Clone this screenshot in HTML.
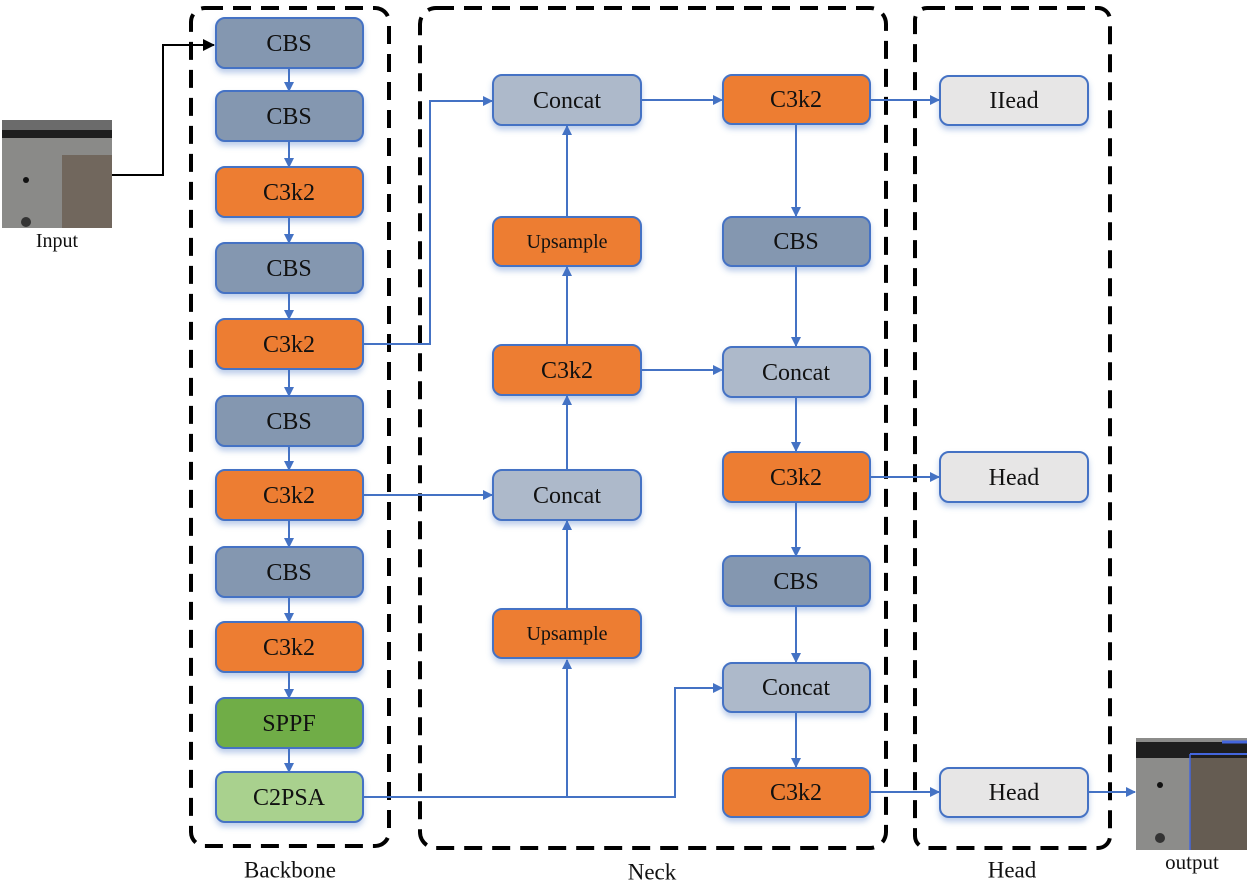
<!DOCTYPE html>
<html><head><meta charset="utf-8"><style>
html,body{margin:0;padding:0;background:#fff;}
svg{display:block;}
text{font-family:"Liberation Serif",serif;fill:#111;text-anchor:middle;dominant-baseline:central;}
</style></head><body>
<svg width="1250" height="886" viewBox="0 0 1250 886" xmlns="http://www.w3.org/2000/svg">
<defs>
<marker id="a" markerWidth="10" markerHeight="10" refX="9" refY="5" orient="auto" markerUnits="userSpaceOnUse"><path d="M0,0 L10,5 L0,10 z" fill="#4472c4"/></marker>
<marker id="k" markerWidth="12" markerHeight="12" refX="11" refY="6" orient="auto" markerUnits="userSpaceOnUse"><path d="M0,0 L12,6 L0,12 z" fill="#000"/></marker>
<filter id="sh" x="-20%" y="-30%" width="140%" height="170%"><feDropShadow dx="0" dy="4" stdDeviation="3" flood-color="#4472c4" flood-opacity="0.35"/></filter>
</defs>

<g fill="none" stroke="#000" stroke-width="4" stroke-dasharray="18,10">
<rect x="191" y="8" width="198" height="838" rx="14"/>
<rect x="420" y="8" width="466" height="840" rx="16"/>
<rect x="915" y="8" width="195" height="840" rx="12"/>
</g>

<g>
<rect x="2" y="120" width="110" height="108" fill="#8a8a88"/>
<rect x="2" y="120" width="110" height="10" fill="#6b6b6b"/>
<rect x="2" y="130" width="110" height="8" fill="#1e1e1e"/>
<rect x="62" y="155" width="50" height="73" fill="#6a5e52" opacity="0.8"/>
<circle cx="26" cy="180" r="3" fill="#111"/>
<circle cx="26" cy="222" r="5" fill="#333"/>
</g>
<text x="57" y="241" font-size="20">Input</text>
<polyline points="112,175 163,175 163,45 214,45" fill="none" stroke="#000" stroke-width="2" marker-end="url(#k)"/>

<g>
<rect x="1136" y="738" width="111" height="112" fill="#8c8c8a"/>
<rect x="1136" y="742" width="111" height="16" fill="#1e1e1e"/>
<rect x="1190" y="758" width="57" height="92" fill="#5e5448" opacity="0.85"/>
<line x1="1190" y1="754" x2="1190" y2="850" stroke="#4466dd" stroke-width="1.5"/>
<line x1="1190" y1="754" x2="1247" y2="754" stroke="#4466dd" stroke-width="2"/>
<line x1="1222" y1="742" x2="1247" y2="742" stroke="#4466dd" stroke-width="3"/>
<circle cx="1160" cy="785" r="3" fill="#111"/>
<circle cx="1160" cy="838" r="5" fill="#333"/>
</g>
<text x="1192" y="862" font-size="21">output</text>

<g stroke="#4472c4" stroke-width="2" fill="none">
<line x1="289" y1="68" x2="289" y2="91" marker-end="url(#a)"/>
<line x1="289" y1="141" x2="289" y2="167" marker-end="url(#a)"/>
<line x1="289" y1="217" x2="289" y2="243" marker-end="url(#a)"/>
<line x1="289" y1="293" x2="289" y2="319" marker-end="url(#a)"/>
<line x1="289" y1="369" x2="289" y2="396" marker-end="url(#a)"/>
<line x1="289" y1="446" x2="289" y2="470" marker-end="url(#a)"/>
<line x1="289" y1="520" x2="289" y2="547" marker-end="url(#a)"/>
<line x1="289" y1="597" x2="289" y2="622" marker-end="url(#a)"/>
<line x1="289" y1="672" x2="289" y2="698" marker-end="url(#a)"/>
<line x1="289" y1="748" x2="289" y2="772" marker-end="url(#a)"/>
<polyline points="363,344 430,344 430,101 492,101" marker-end="url(#a)"/>
<line x1="363" y1="495" x2="492" y2="495" marker-end="url(#a)"/>
<polyline points="363,797 675,797 675,688 722,688" marker-end="url(#a)"/>
<line x1="567" y1="797" x2="567" y2="660" marker-end="url(#a)"/>
<line x1="567" y1="609" x2="567" y2="521" marker-end="url(#a)"/>
<line x1="567" y1="470" x2="567" y2="396" marker-end="url(#a)"/>
<line x1="567" y1="345" x2="567" y2="267" marker-end="url(#a)"/>
<line x1="567" y1="216" x2="567" y2="126" marker-end="url(#a)"/>
<line x1="641" y1="100" x2="722" y2="100" marker-end="url(#a)"/>
<line x1="641" y1="370" x2="722" y2="370" marker-end="url(#a)"/>
<line x1="796" y1="124" x2="796" y2="216" marker-end="url(#a)"/>
<line x1="796" y1="266" x2="796" y2="346" marker-end="url(#a)"/>
<line x1="796" y1="397" x2="796" y2="451" marker-end="url(#a)"/>
<line x1="796" y1="502" x2="796" y2="556" marker-end="url(#a)"/>
<line x1="796" y1="606" x2="796" y2="662" marker-end="url(#a)"/>
<line x1="796" y1="712" x2="796" y2="767" marker-end="url(#a)"/>
<line x1="870" y1="100" x2="939" y2="100" marker-end="url(#a)"/>
<line x1="870" y1="477" x2="939" y2="477" marker-end="url(#a)"/>
<line x1="870" y1="792" x2="939" y2="792" marker-end="url(#a)"/>
<line x1="1088" y1="792" x2="1135" y2="792" marker-end="url(#a)"/>
</g>

<g stroke="#4472c4" stroke-width="2" filter="url(#sh)">
<rect x="216" y="18" width="147" height="50" rx="9" fill="#8497b0"/>
<rect x="216" y="91" width="147" height="50" rx="9" fill="#8497b0"/>
<rect x="216" y="167" width="147" height="50" rx="9" fill="#ed7d31"/>
<rect x="216" y="243" width="147" height="50" rx="9" fill="#8497b0"/>
<rect x="216" y="319" width="147" height="50" rx="9" fill="#ed7d31"/>
<rect x="216" y="396" width="147" height="50" rx="9" fill="#8497b0"/>
<rect x="216" y="470" width="147" height="50" rx="9" fill="#ed7d31"/>
<rect x="216" y="547" width="147" height="50" rx="9" fill="#8497b0"/>
<rect x="216" y="622" width="147" height="50" rx="9" fill="#ed7d31"/>
<rect x="216" y="698" width="147" height="50" rx="9" fill="#70ad47"/>
<rect x="216" y="772" width="147" height="50" rx="9" fill="#a9d18e"/>

<rect x="493" y="75" width="148" height="50" rx="9" fill="#adb9ca"/>
<rect x="493" y="217" width="148" height="49" rx="9" fill="#ed7d31"/>
<rect x="493" y="345" width="148" height="50" rx="9" fill="#ed7d31"/>
<rect x="493" y="470" width="148" height="50" rx="9" fill="#adb9ca"/>
<rect x="493" y="609" width="148" height="49" rx="9" fill="#ed7d31"/>

<rect x="723" y="75" width="147" height="49" rx="9" fill="#ed7d31"/>
<rect x="723" y="217" width="147" height="49" rx="9" fill="#8497b0"/>
<rect x="723" y="347" width="147" height="50" rx="9" fill="#adb9ca"/>
<rect x="723" y="452" width="147" height="50" rx="9" fill="#ed7d31"/>
<rect x="723" y="556" width="147" height="50" rx="9" fill="#8497b0"/>
<rect x="723" y="663" width="147" height="49" rx="9" fill="#adb9ca"/>
<rect x="723" y="768" width="147" height="49" rx="9" fill="#ed7d31"/>

<rect x="940" y="76" width="148" height="49" rx="9" fill="#e7e6e6"/>
<rect x="940" y="452" width="148" height="50" rx="9" fill="#e7e6e6"/>
<rect x="940" y="768" width="148" height="49" rx="9" fill="#e7e6e6"/>
</g>

<g font-size="24">
<text x="289" y="44">CBS</text>
<text x="289" y="117">CBS</text>
<text x="289" y="193">C3k2</text>
<text x="289" y="269">CBS</text>
<text x="289" y="345">C3k2</text>
<text x="289" y="422">CBS</text>
<text x="289" y="496">C3k2</text>
<text x="289" y="573">CBS</text>
<text x="289" y="648">C3k2</text>
<text x="289" y="724">SPPF</text>
<text x="289" y="798">C2PSA</text>

<text x="567" y="101">Concat</text>
<text x="567" y="242" font-size="20">Upsample</text>
<text x="567" y="371">C3k2</text>
<text x="567" y="496">Concat</text>
<text x="567" y="634" font-size="20">Upsample</text>

<text x="796" y="100">C3k2</text>
<text x="796" y="242">CBS</text>
<text x="796" y="373">Concat</text>
<text x="796" y="478">C3k2</text>
<text x="796" y="582">CBS</text>
<text x="796" y="688">Concat</text>
<text x="796" y="793">C3k2</text>

<text x="1014" y="101">IIead</text>
<text x="1014" y="478">Head</text>
<text x="1014" y="793">Head</text>

<text x="290" y="870" font-size="23">Backbone</text>
<text x="652" y="872" font-size="23">Neck</text>
<text x="1012" y="870" font-size="23">Head</text>
</g>
</svg>
</body></html>
